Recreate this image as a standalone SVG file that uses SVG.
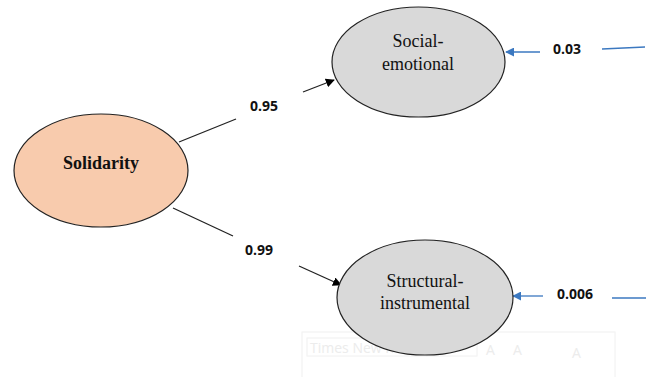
<svg xmlns="http://www.w3.org/2000/svg" width="646" height="377" viewBox="0 0 646 377">
<defs>
<marker id="ah" viewBox="0 0 10 10" refX="9" refY="5" markerWidth="9" markerHeight="9" markerUnits="userSpaceOnUse" orient="auto"><path d="M0,0 L10,5 L0,10 z" fill="#000"/></marker>
<marker id="ahb" viewBox="0 0 10 10" refX="9" refY="5" markerWidth="9" markerHeight="9" markerUnits="userSpaceOnUse" orient="auto"><path d="M0,0 L10,5 L0,10 z" fill="#3B78C0"/></marker>
<style>
.lbl{font-family:"Times New Roman","Liberation Serif",serif;font-size:18px;fill:#111;text-anchor:middle}
.num{font-family:"Open Sans","Liberation Sans",sans-serif;font-size:14px;font-weight:bold;fill:#111}
.ln{stroke:#222;stroke-width:1.3;fill:none}
.bl{stroke:#3B78C0;stroke-width:1.3;fill:none}
.node{stroke:#222;stroke-width:1.2}
.tb{fill:none;stroke:#ececec;stroke-width:1}
.tbt{font-family:"Segoe UI","Open Sans","Liberation Sans",sans-serif;font-size:14px;fill:#e4e4e4}
</style>
</defs>
<rect width="646" height="377" fill="#fff"/>
<g id="connectors">
<line class="ln" x1="179" y1="142" x2="236" y2="119"/>
<line class="ln" x1="303" y1="92" x2="334" y2="80" marker-end="url(#ah)"/>
<line class="ln" x1="173" y1="208" x2="233" y2="236"/>
<line class="ln" x1="299" y1="266" x2="341" y2="285" marker-end="url(#ah)"/>
<line class="bl" x1="540" y1="52" x2="506" y2="52" marker-end="url(#ahb)"/>
<line class="bl" x1="602" y1="49" x2="645" y2="47"/>
<line class="bl" x1="543" y1="296" x2="513" y2="296" marker-end="url(#ahb)"/>
<line class="bl" x1="612" y1="298" x2="646" y2="298"/>
<text class="num" x="250" y="111">0.95</text>
<text class="num" x="245" y="255">0.99</text>
<text class="num" x="553" y="54">0.03</text>
<text class="num" x="557" y="299">0.006</text>
</g>
<g id="toolbar" opacity="0.7">
<rect class="tb" x="302" y="332" width="313" height="50"/>
<rect class="tb" x="307" y="338" width="120" height="18"/>
<rect class="tb" x="427" y="338" width="50" height="18"/>
<text class="tbt" x="310" y="353">Times New Ro</text>
<text class="tbt" x="431" y="353">11</text>
<text class="tbt" x="486" y="355">A</text>
<text class="tbt" x="513" y="355" font-size="12">A</text>
<text class="tbt" x="572" y="358" font-size="22" fill="#dbe4f3">A</text>
</g>
<g id="solidarity">
<ellipse class="node" cx="101" cy="170.5" rx="87" ry="56.5" fill="#F8CBAD"/>
<text class="lbl" x="101" y="169" font-weight="bold" font-size="19">Solidarity</text>
</g>
<g id="social-emotional">
<ellipse class="node" cx="418.5" cy="62" rx="86.5" ry="55" fill="#D9D9D9"/>
<text class="lbl" x="418" y="47">Social-</text>
<text class="lbl" x="418" y="70">emotional</text>
</g>
<g id="structural-instrumental">
<ellipse class="node" cx="425" cy="297.5" rx="88" ry="57.5" fill="#D9D9D9"/>
<text class="lbl" x="425" y="287">Structural-</text>
<text class="lbl" x="425" y="309">instrumental</text>
</g>
</svg>
